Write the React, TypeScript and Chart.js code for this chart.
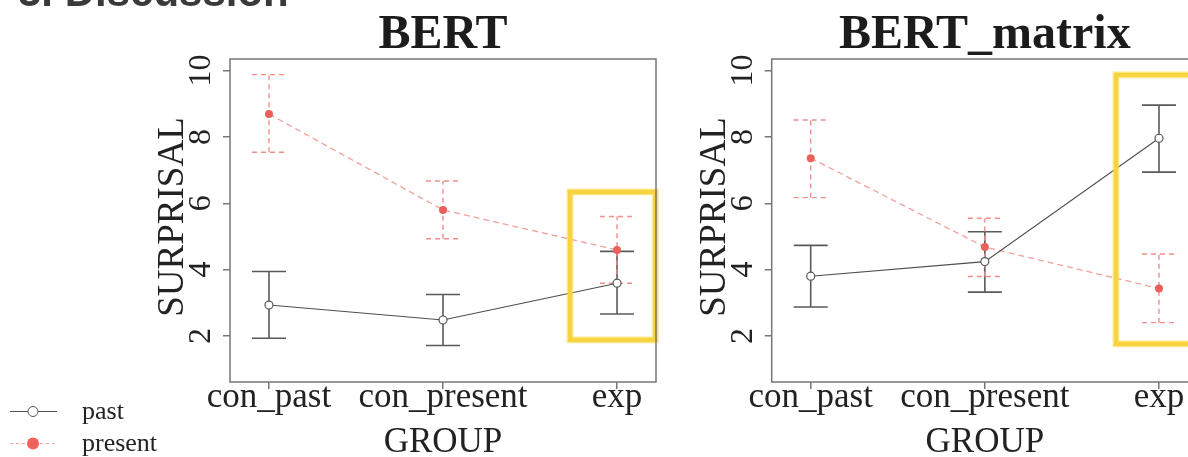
import React, { useEffect, useRef } from "react";
import { Chart, registerables } from "chart.js";
Chart.register(...registerables);

// ---------- data ----------
const groups = ["con_past", "con_present", "exp"];
const groupPositions = [1, 2, 3];
const yTicks = [2, 4, 6, 8, 10];
const seriesNames = ["past", "present"];

const bertPast = [2.93, 2.48, 3.59];
const bertPastLow = [1.93, 1.71, 2.66];
const bertPastHigh = [3.94, 3.25, 4.55];
const bertPresent = [8.69, 5.8, 4.59];
const bertPresentLow = [7.54, 4.93, 3.59];
const bertPresentHigh = [9.88, 6.67, 5.6];

const matrixPast = [3.8, 4.24, 7.96];
const matrixPastLow = [2.87, 3.32, 6.94];
const matrixPastHigh = [4.73, 5.14, 8.96];
const matrixPresent = [7.36, 4.68, 3.43];
const matrixPresentLow = [6.17, 3.79, 2.4];
const matrixPresentHigh = [8.51, 5.55, 4.47];

// highlight boxes in data units: [xMin, xMax, yMin, yMax]
const bertHighlight = [2.73, 3.22, 1.88, 6.34];
const matrixHighlight = [2.753, 3.35, 1.76, 9.87];

const SERIF = '"Liberation Serif", "Times New Roman", serif';
const SANS = '"Liberation Sans", Arial, sans-serif';
const H = 457;

type Panel = {
  title: string;
  left: number;
  width: number;
  areaLeft: number;
  areaRight: number;
  areaTop: number;
  areaBottom: number;
  past: number[];
  pastLow: number[];
  pastHigh: number[];
  present: number[];
  presentLow: number[];
  presentHigh: number[];
  highlight: number[];
  showLegend: boolean;
};

const panels: Panel[] = [
  {
    title: "BERT",
    left: 0,
    width: 700,
    areaLeft: 230,
    areaRight: 656,
    areaTop: 59,
    areaBottom: 382,
    past: bertPast,
    pastLow: bertPastLow,
    pastHigh: bertPastHigh,
    present: bertPresent,
    presentLow: bertPresentLow,
    presentHigh: bertPresentHigh,
    highlight: bertHighlight,
    showLegend: true,
  },
  {
    title: "BERT_matrix",
    left: 700,
    width: 560,
    areaLeft: 71.7,
    areaRight: 498,
    areaTop: 59,
    areaBottom: 382,
    past: matrixPast,
    pastLow: matrixPastLow,
    pastHigh: matrixPastHigh,
    present: matrixPresent,
    presentLow: matrixPresentLow,
    presentHigh: matrixPresentHigh,
    highlight: matrixHighlight,
    showLegend: false,
  },
];

function makeDecor(p: Panel) {
  return {
    id: "decor",
    beforeDatasetsDraw(chart: any) {
      const { ctx, scales } = chart;
      const x = scales.x;
      const y = scales.y;
      chart.data.datasets.forEach((ds: any) => {
        ctx.save();
        ctx.strokeStyle = ds.errColor;
        ctx.lineWidth = ds.errWidth;
        ctx.setLineDash(ds.errDash);
        ds.data.forEach((pt: any, i: number) => {
          const px = x.getPixelForValue(pt.x);
          const lo = y.getPixelForValue(ds.errLow[i]);
          const hi = y.getPixelForValue(ds.errHigh[i]);
          ctx.beginPath();
          ctx.moveTo(px, lo);
          ctx.lineTo(px, hi);
          ctx.moveTo(px - 17, lo);
          ctx.lineTo(px + 17, lo);
          ctx.moveTo(px - 17, hi);
          ctx.lineTo(px + 17, hi);
          ctx.stroke();
        });
        ctx.restore();
      });
    },
    afterDatasetsDraw(chart: any) {
      const { ctx, scales } = chart;
      const x = scales.x;
      const y = scales.y;
      const [x0, x1, y0, y1] = p.highlight;
      const l = x.getPixelForValue(x0);
      const r = x.getPixelForValue(x1);
      const t = y.getPixelForValue(y1);
      const b = y.getPixelForValue(y0);
      ctx.save();
      ctx.strokeStyle = "rgba(250, 220, 90, 0.55)";
      ctx.lineWidth = 7;
      ctx.strokeRect(l, t, r - l, b - t);
      ctx.strokeStyle = "#f7d43e";
      ctx.lineWidth = 4.5;
      ctx.strokeRect(l, t, r - l, b - t);
      ctx.restore();
    },
    afterDraw(chart: any) {
      const { ctx, chartArea: a, scales } = chart;
      const x = scales.x;
      const y = scales.y;
      ctx.save();
      // frame
      ctx.strokeStyle = "#777";
      ctx.lineWidth = 1.5;
      ctx.strokeRect(a.left, a.top, a.right - a.left, a.bottom - a.top);

      ctx.fillStyle = "#1c1c1c";
      ctx.textBaseline = "alphabetic";
      // title
      ctx.font = `bold 48px ${SERIF}`;
      ctx.textAlign = "center";
      ctx.fillText(p.title, (a.left + a.right) / 2, 48);

      // y tick labels (rotated)
      ctx.fillStyle = "#222";
      ctx.font = `32px ${SERIF}`;
      yTicks.forEach((v) => {
        const py = y.getPixelForValue(v);
        ctx.save();
        ctx.translate(a.left - 20, py);
        ctx.rotate(-Math.PI / 2);
        ctx.textAlign = "center";
        ctx.fillText(String(v), 0, 0);
        ctx.restore();
      });
      // y title
      ctx.font = `37px ${SERIF}`;
      ctx.save();
      ctx.translate(a.left - 47, 217);
      ctx.rotate(-Math.PI / 2);
      ctx.textAlign = "center";
      ctx.fillText("SURPRISAL", 0, 0);
      ctx.restore();

      // x tick labels
      ctx.font = `35px ${SERIF}`;
      ctx.textAlign = "center";
      groups.forEach((g, i) => {
        ctx.fillText(g, x.getPixelForValue(groupPositions[i]), 407);
      });
      ctx.fillText("GROUP", (a.left + a.right) / 2, 452);

      if (p.showLegend) {
        // heading fragment at top
        ctx.fillStyle = "#3a3a3a";
        ctx.font = `bold 42px ${SANS}`;
        ctx.textAlign = "left";
        ctx.fillText("5. Discussion", 18, 6);

        // legend: past
        ctx.strokeStyle = "#555";
        ctx.lineWidth = 1;
        ctx.beginPath();
        ctx.moveTo(10, 411.5);
        ctx.lineTo(57, 411.5);
        ctx.stroke();
        ctx.beginPath();
        ctx.arc(33, 411.5, 5, 0, Math.PI * 2);
        ctx.fillStyle = "#fff";
        ctx.fill();
        ctx.stroke();
        // legend: present
        ctx.strokeStyle = "#f4a3a0";
        ctx.setLineDash([3, 3]);
        ctx.beginPath();
        ctx.moveTo(10, 443.5);
        ctx.lineTo(57, 443.5);
        ctx.stroke();
        ctx.setLineDash([]);
        ctx.beginPath();
        ctx.arc(33, 443.5, 6, 0, Math.PI * 2);
        ctx.fillStyle = "#ee6259";
        ctx.fill();

        ctx.fillStyle = "#222";
        ctx.font = `26px ${SERIF}`;
        ctx.fillText(seriesNames[0], 82, 419);
        ctx.fillText(seriesNames[1], 82, 451);
      }
      ctx.restore();
    },
  };
}

function ChartPanel({ p }: { p: Panel }) {
  const ref = useRef<HTMLCanvasElement | null>(null);
  useEffect(() => {
    if (!ref.current) return;
    const chart = new Chart(ref.current, {
      type: "line",
      data: {
        datasets: [
          {
            label: seriesNames[0],
            data: groupPositions.map((gx, i) => ({ x: gx, y: p.past[i] })),
            borderColor: "#4d4d4d",
            borderWidth: 1.1,
            pointRadius: 4,
            pointBorderWidth: 1.2,
            pointBorderColor: "#555",
            pointBackgroundColor: "#fff",
            tension: 0,
            errLow: p.pastLow,
            errHigh: p.pastHigh,
            errColor: "#5a5a5a",
            errWidth: 1.6,
            errDash: [],
          } as any,
          {
            label: seriesNames[1],
            data: groupPositions.map((gx, i) => ({ x: gx, y: p.present[i] })),
            borderColor: "#f2a09c",
            borderWidth: 1.3,
            borderDash: [6, 4],
            pointRadius: 4,
            pointBorderWidth: 0,
            pointBorderColor: "#e9615a",
            pointBackgroundColor: "#e9615a",
            tension: 0,
            errLow: p.presentLow,
            errHigh: p.presentHigh,
            errColor: "#f08e8a",
            errWidth: 1.4,
            errDash: [5, 4],
          } as any,
        ],
      },
      options: {
        animation: false,
        responsive: false,
        maintainAspectRatio: false,
        devicePixelRatio: 1,
        layout: {
          padding: { top: p.areaTop, left: 0, right: p.width - p.areaRight, bottom: 0 },
        },
        plugins: { legend: { display: false }, tooltip: { enabled: false }, title: { display: false } },
        scales: {
          x: {
            type: "linear",
            min: 0.776,
            max: 3.224,
            afterBuildTicks: (s: any) => {
              s.ticks = groupPositions.map((v) => ({ value: v }));
            },
            afterFit: (s: any) => {
              s.height = H - p.areaBottom;
            },
            ticks: { display: false },
            grid: { drawOnChartArea: false, drawTicks: true, tickLength: 7, color: "#777", lineWidth: 1.5 },
            border: { display: false },
          },
          y: {
            type: "linear",
            min: 0.61,
            max: 10.35,
            afterBuildTicks: (s: any) => {
              s.ticks = yTicks.map((v) => ({ value: v }));
            },
            afterFit: (s: any) => {
              s.width = p.areaLeft;
            },
            ticks: { display: false },
            grid: { drawOnChartArea: false, drawTicks: true, tickLength: 7, color: "#777", lineWidth: 1.5 },
            border: { display: false },
          },
        },
      } as any,
      plugins: [makeDecor(p)],
    });
    return () => chart.destroy();
  }, [p]);
  return (
    <canvas
      ref={ref}
      width={p.width}
      height={H}
      style={{ position: "absolute", left: p.left, top: 0, width: p.width, height: H }}
    />
  );
}

export default function App() {
  return (
    <div
      style={{
        position: "fixed",
        left: 0,
        top: 0,
        width: 1188,
        height: H,
        overflow: "hidden",
        background: "#fff",
      }}
    >
      {panels.map((p) => (
        <ChartPanel key={p.title} p={p} />
      ))}
    </div>
  );
}
